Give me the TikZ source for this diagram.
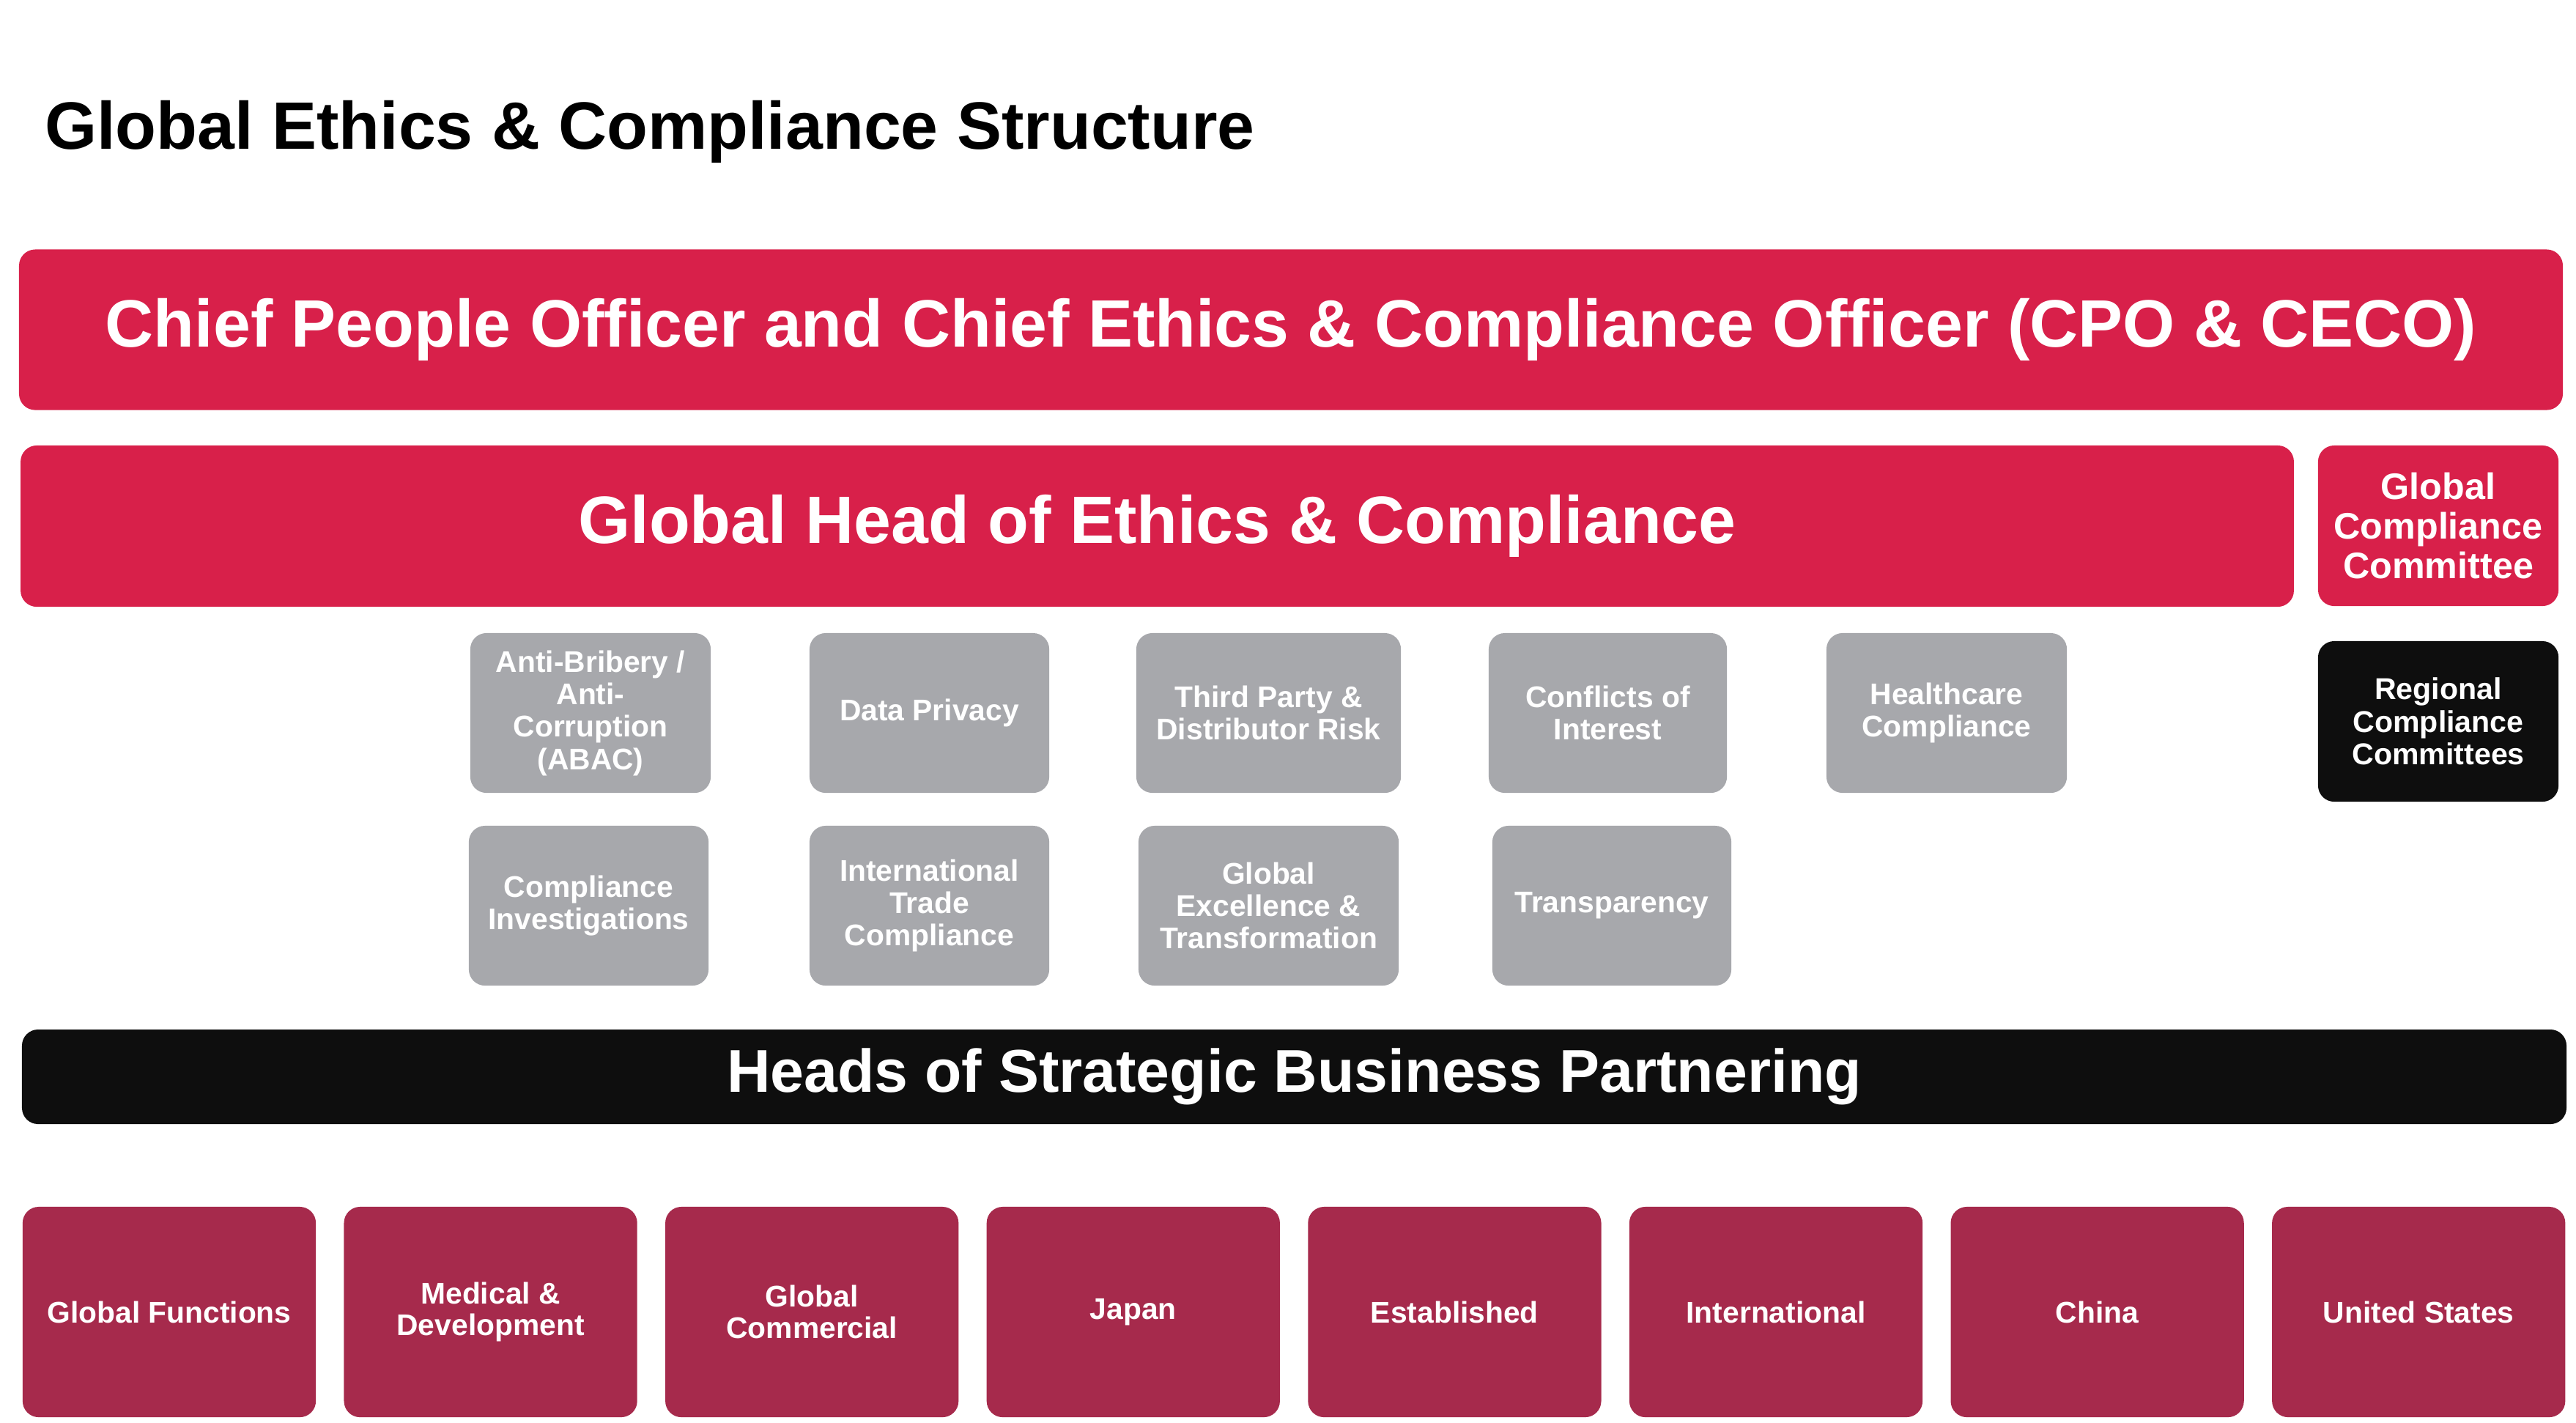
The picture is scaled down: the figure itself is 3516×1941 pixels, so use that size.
\documentclass[tikz,border=0pt]{standalone}
\usepackage{fontspec}
\setmainfont{Liberation Sans}
\definecolor{ceRed}{HTML}{D8204A}
\definecolor{ceMaroon}{HTML}{A62A4C}
\definecolor{ceGray}{HTML}{A7A8AC}
\definecolor{ceBlack}{HTML}{0E0E0E}
\begin{document}
\begin{tikzpicture}[x=0.01cm,y=-0.01cm,
  box/.style={rounded corners=0.22cm,text=white,align=center,inner sep=0pt},
  redbox/.style={box,fill=ceRed},
  blackbox/.style={box,fill=ceBlack},
  topicbox/.style={box,fill=ceGray,minimum height=2.18cm,
    font=\bfseries\fontsize{11.6}{12.6}\selectfont},
  unitbox/.style={box,fill=ceMaroon,minimum width=4.0cm,minimum height=2.87cm,
    font=\bfseries\fontsize{11.6}{12.3}\selectfont},
  bigfont/.style={font=\bfseries\fontsize{26}{30}\selectfont}]
\useasboundingbox (0,0) rectangle (3516,1941);

% Title
\node[anchor=base west,bigfont] (title) at (49,203) {Global Ethics \& Compliance Structure};

% Officers
\node[redbox,bigfont,minimum width=34.70cm,minimum height=2.19cm] (cpo) at (1762,450)
  {Chief People Officer and Chief Ethics \& Compliance Officer (CPO \& CECO)};
\node[redbox,bigfont,minimum width=31.01cm,minimum height=2.2cm] (head) at (1579.5,718)
  {Global Head of Ethics \& Compliance};

% Committees
\node[redbox,minimum width=3.28cm,minimum height=2.19cm,
  font=\bfseries\fontsize{14.3}{15.3}\selectfont] (gcc) at (3328,717.5)
  {Global\\Compliance\\Committee};
\node[blackbox,minimum width=3.28cm,minimum height=2.19cm,
  font=\bfseries\fontsize{11.7}{12.7}\selectfont] (rcc) at (3328,984.5)
  {Regional\\Compliance\\Committees};

% Topic areas, first row
\foreach \nm/\cx/\w/\txt in {abac/806/3.28/{Anti-Bribery /\\Anti-\\Corruption\\(ABAC)},
    priv/1268.5/3.27/{Data Privacy},
    tpr/1731.5/3.61/{Third Party \&\\Distributor Risk},
    coi/2194.5/3.25/{Conflicts of\\Interest},
    hcc/2657/3.28/{Healthcare\\Compliance}}
  \node[topicbox,minimum width=\w cm] (\nm) at (\cx,973) {\txt};

% Topic areas, second row
\foreach \nm/\cx/\w/\txt in {inv/803.5/3.27/{Compliance\\Investigations},
    itc/1268.5/3.27/{International\\Trade\\Compliance},
    get/1731.5/3.55/{Global\\Excellence \&\\Transformation},
    trans/2200/3.26/{Transparency}}
  \node[topicbox,minimum width=\w cm] (\nm) at (\cx,1236) {\txt};

% Business partnering
\node[blackbox,minimum width=34.71cm,minimum height=1.29cm,
  font=\bfseries\fontsize{23.45}{28}\selectfont] (hsbp) at (1766.5,1469.5)
  {Heads of Strategic Business Partnering};

% Business units
\foreach \nm/\txt [count=\i from 0] in {gf/{Global Functions},
    md/{Medical \&\\Development},
    gcom/{Global\\Commercial},
    jp/{Japan},
    est/{Established},
    intl/{International},
    cn/{China},
    us/{United States}}
  \node[unitbox] (\nm) at ({231+438.6*\i},1790.5) {\txt};
\end{tikzpicture}
\end{document}
